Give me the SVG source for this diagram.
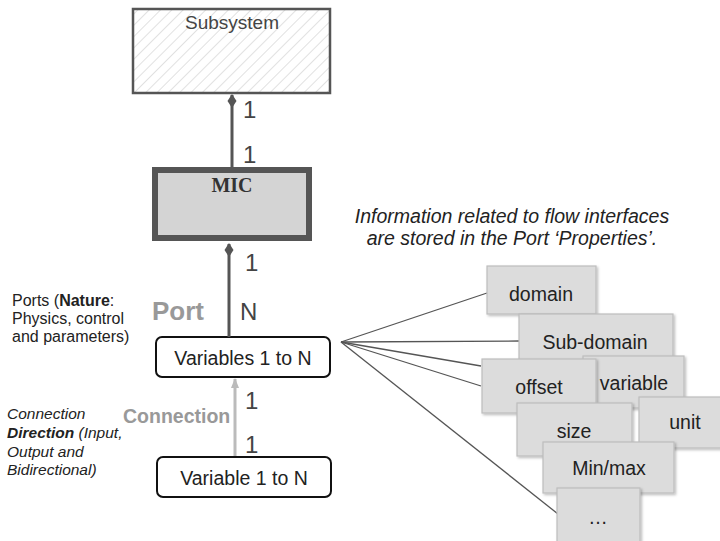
<svg xmlns="http://www.w3.org/2000/svg" width="720" height="541" viewBox="0 0 720 541">
<defs>
<pattern id="hatch" patternUnits="userSpaceOnUse" width="8" height="8" patternTransform="rotate(45)">
<rect width="8" height="8" fill="#ffffff"/>
<line x1="0" y1="0" x2="0" y2="8" stroke="#c8c8c8" stroke-width="1.1"/>
</pattern>
<marker id="diamond" viewBox="0 0 14 10" refX="1" refY="5" markerWidth="14" markerHeight="10" markerUnits="userSpaceOnUse" orient="auto">
<path d="M0,5 L7,0.5 L14,5 L7,9.5 Z" fill="#555"/>
</marker>
<marker id="arrow" viewBox="0 0 10 10" refX="9" refY="5" markerWidth="10" markerHeight="10" markerUnits="userSpaceOnUse" orient="auto">
<path d="M0,1 L10,5 L0,9 Z" fill="#bbb"/>
</marker>
<filter id="sh" x="-10%" y="-10%" width="130%" height="130%">
<feDropShadow dx="1.5" dy="1.5" stdDeviation="1" flood-color="#000" flood-opacity="0.25"/>
</filter>
</defs>
<style>
text{font-family:"Liberation Sans",Arial,sans-serif;}
.prop rect{fill:#dcdcdc;stroke:#bdbdbd;stroke-width:1.2;filter:url(#sh);}
.prop text{font-size:19.5px;fill:#222;text-anchor:middle;}
.mult{font-size:24px;fill:#444;}
.var rect{fill:#fff;stroke:#111;stroke-width:2;}
.var text{font-size:19.5px;fill:#222;text-anchor:middle;}
.note{font-size:16px;fill:#222;}
.it{font-style:italic;font-size:15.5px;}
.info{font-style:italic;font-size:19.5px;fill:#222;text-anchor:middle;}
</style>
<g id="subsystem">
<rect x="133" y="9" width="197" height="84" fill="url(#hatch)" stroke="#555" stroke-width="2.5"/>
<text x="232" y="29" font-size="19" fill="#444" text-anchor="middle">Subsystem</text>
</g>
<g id="mic">
<rect x="155" y="170" width="154" height="68" fill="#d4d4d4" stroke="#555" stroke-width="6"/>
<text x="232" y="192" font-size="20" font-weight="bold" fill="#333" text-anchor="middle" style="font-family:'Liberation Serif','Times New Roman',serif">MIC</text>
</g>
<g id="variables" class="var">
<rect x="156" y="337" width="174" height="40" rx="6"/>
<text x="243" y="365">Variables 1 to N</text>
</g>
<g id="variable" class="var">
<rect x="157" y="457" width="174" height="40" rx="6"/>
<text x="244" y="485">Variable 1 to N</text>
</g>
<g id="connectors">
<line x1="232" y1="95" x2="232" y2="167" stroke="#555" stroke-width="3" marker-start="url(#diamond)"/>
<line x1="229" y1="244" x2="229" y2="337" stroke="#555" stroke-width="3" marker-start="url(#diamond)"/>
<line x1="235" y1="456" x2="235" y2="379" stroke="#bbb" stroke-width="3" marker-end="url(#arrow)"/>
<g stroke="#555" stroke-width="1.3">
<line x1="341" y1="342" x2="487" y2="293"/>
<line x1="341" y1="342" x2="519" y2="341"/>
<line x1="341" y1="342" x2="481" y2="366"/>
<line x1="341" y1="342" x2="481" y2="386"/>
<line x1="341" y1="342" x2="558" y2="514"/>
</g>
<text class="mult" x="243" y="118">1</text>
<text class="mult" x="243" y="163">1</text>
<text class="mult" x="245" y="271">1</text>
<text class="mult" x="240" y="320">N</text>
<text class="mult" x="245" y="409">1</text>
<text class="mult" x="245" y="453">1</text>
<text x="152" y="320" font-size="26" font-weight="bold" fill="#999">Port</text>
<text x="123" y="423" font-size="19.5" font-weight="bold" fill="#999">Connection</text>
</g>
<g id="notes">
<text class="note" x="12" y="306">Ports (<tspan font-weight="bold">Nature</tspan>:</text>
<text class="note" x="12" y="324">Physics, control</text>
<text class="note" x="12" y="342">and parameters)</text>
<text class="note it" x="7" y="419">Connection</text>
<text class="note it" x="7" y="438"><tspan font-weight="bold">Direction</tspan> (Input,</text>
<text class="note it" x="7" y="457">Output and</text>
<text class="note it" x="7" y="475">Bidirectional)</text>
<text class="info" x="512" y="223">Information related to flow interfaces</text>
<text class="info" x="512" y="245">are stored in the Port ‘Properties’.</text>
</g>
<g id="p-domain" class="prop"><rect x="487" y="266" width="109" height="48"/><text x="541" y="301">domain</text></g>
<g id="p-subdomain" class="prop"><rect x="519" y="314" width="154" height="46"/><text x="595" y="349">Sub-domain</text></g>
<g id="p-variable" class="prop"><rect x="583" y="356" width="101" height="52"/><text x="634" y="390">variable</text></g>
<g id="p-offset" class="prop"><rect x="482" y="359" width="114" height="54"/><text x="539" y="394">offset</text></g>
<g id="p-unit" class="prop"><rect x="639" y="397" width="84" height="51"/><text x="685" y="429">unit</text></g>
<g id="p-size" class="prop"><rect x="517" y="403" width="115" height="53"/><text x="574" y="438">size</text></g>
<g id="p-minmax" class="prop"><rect x="543" y="442" width="131" height="51"/><text x="609" y="475">Min/max</text></g>
<g id="p-more" class="prop"><rect x="557" y="488" width="83" height="56"/><text x="598" y="524">…</text></g>
</svg>
